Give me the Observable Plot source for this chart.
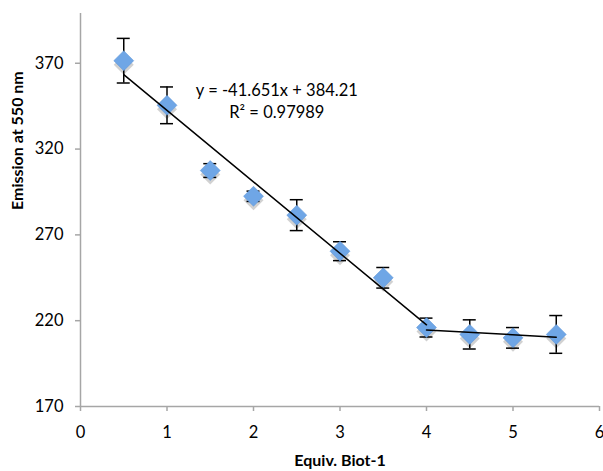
<!DOCTYPE html>
<html>
<head>
<meta charset="utf-8">
<script src="https://cdn.jsdelivr.net/npm/d3@7"></script>
<script src="https://cdn.jsdelivr.net/npm/@observablehq/plot@0.6"></script>
<style>
  html, body { margin: 0; padding: 0; background: #fff; }
  svg { display: block; }
</style>
</head>
<body>
<div id="chart"></div>
<script>
// Data
const equiv = [0.5, 1, 1.5, 2, 2.5, 3, 3.5, 4, 4.5, 5, 5.5];
const emission = [371.5, 345.5, 307.5, 292.5, 281.5, 260.5, 245, 216, 212, 210, 212];
const errors = [13, 10.7, 4, 3, 9, 5.5, 6, 5.5, 8.5, 6, 11];
const xTicks = [0, 1, 2, 3, 4, 5, 6];
const yTicks = [170, 220, 270, 320, 370];
const fitSlope = -41.651;
const fitIntercept = 384.21;
const fitRange = [0.5, 4];
const plateauRange = [4, 5.5];
const equationLabel = "y = -41.651x + 384.21\nR² = 0.97989";
const xLabel = "Equiv. Biot-1";
const yLabel = "Emission at 550 nm";

const points = equiv.map((x, i) => ({x, y: emission[i], e: errors[i]}));
const fitLine = fitRange.map(x => ({x, y: fitSlope * x + fitIntercept}));
const plateau = points.filter(d => d.x >= plateauRange[0] && d.x <= plateauRange[1]);

const font = "Lato, 'Open Sans', sans-serif";
const axisColor = "#a6a6a6";

const chart = Plot.plot({
  width: 603,
  height: 471,
  marginLeft: 80,
  marginRight: 4,
  marginTop: 13,
  marginBottom: 65,
  style: {fontFamily: font, fontSize: "16px", color: "#000", background: "#fff"},
  x: {domain: [0, 6], ticks: xTicks},
  y: {domain: [170, 399], ticks: yTicks},
  marks: [
    // axis lines
    Plot.ruleY([170], {stroke: axisColor, strokeWidth: 1.5}),
    Plot.ruleX([0], {stroke: axisColor, strokeWidth: 1.5}),
    Plot.axisX(xTicks, {tickSize: 5, stroke: axisColor, strokeWidth: 1.5, tickPadding: 15, fontSize: 16.5, fill: "#000", label: null}),
    Plot.axisY(yTicks, {tickSize: 5, stroke: axisColor, strokeWidth: 1.5, tickPadding: 12, fontSize: 16.5, fill: "#000", label: null}),
    // axis titles
    Plot.text([xLabel], {frameAnchor: "bottom", dy: 59, fontWeight: "bold", fontSize: 16}),
    Plot.text([yLabel], {frameAnchor: "left", dx: -63, rotate: -90, fontWeight: "bold", fontSize: 16}),
    // shadows
    Plot.dot(points, {x: "x", y: "y", symbol: "diamond2", r: 9, fill: "#9a9a9a", fillOpacity: 0.45, stroke: "none", dy: 4}),
    // error bars
    Plot.ruleX(points, {x: "x", y1: d => d.y - d.e, y2: d => d.y + d.e, stroke: "#000", strokeWidth: 1.5}),
    Plot.ruleY(points, {y: d => d.y + d.e, x1: d => d.x - 0.075, x2: d => d.x + 0.075, stroke: "#000", strokeWidth: 1.5}),
    Plot.ruleY(points, {y: d => d.y - d.e, x1: d => d.x - 0.075, x2: d => d.x + 0.075, stroke: "#000", strokeWidth: 1.5}),
    // markers
    Plot.dot(points, {x: "x", y: "y", symbol: "diamond2", r: 9, fill: "#6fa6e6", stroke: "#5a93d6", strokeWidth: 0.5}),
    // trend lines
    Plot.line(fitLine, {x: "x", y: "y", stroke: "#000", strokeWidth: 1.5}),
    Plot.linearRegressionY(plateau, {x: "x", y: "y", stroke: "#000", strokeWidth: 1.5, ci: 0}),
    // equation
    Plot.text([equationLabel], {x: [2.27], y: [348.6], textAnchor: "middle", lineHeight: 1.3, fontSize: 16.5, fill: "#000"})
  ]
});
document.getElementById("chart").appendChild(chart);
</script>
</body>
</html>
